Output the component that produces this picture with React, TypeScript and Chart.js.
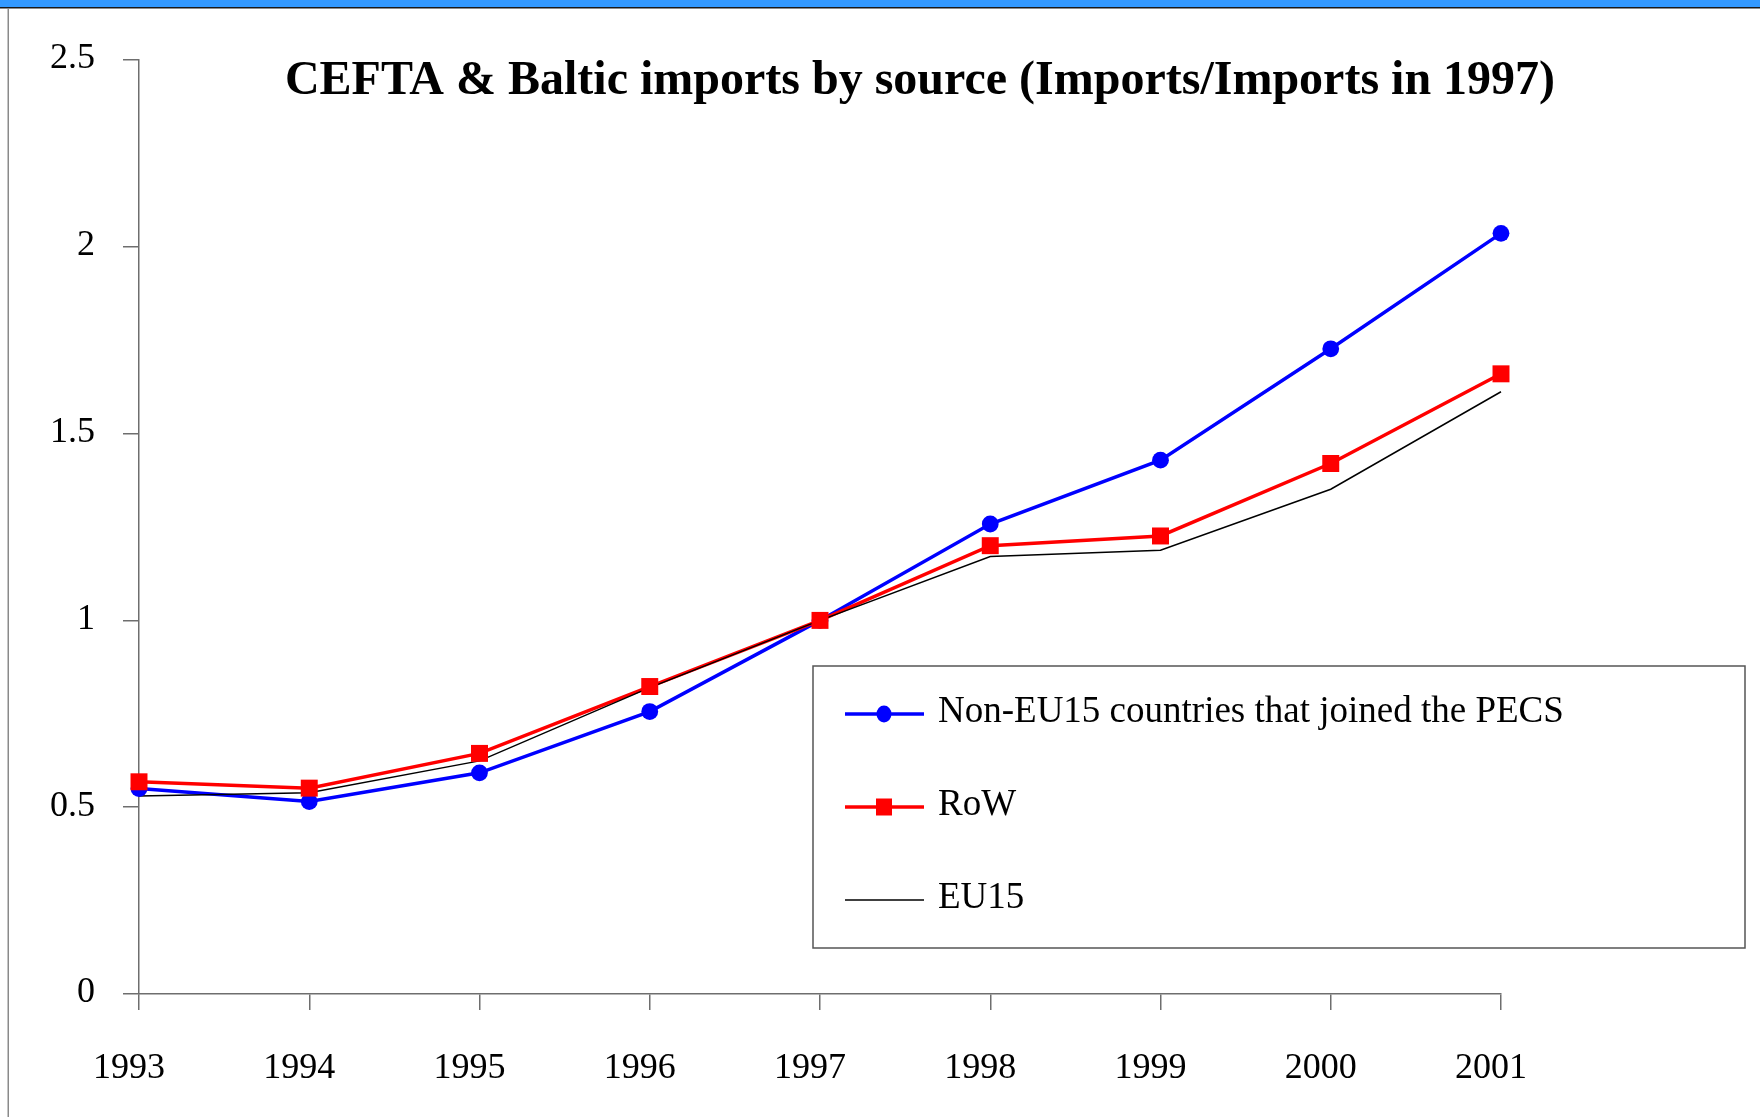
import React, { useEffect, useRef } from 'react';
import { Chart, registerables } from 'chart.js';

Chart.register(...registerables);

// ---- data ----
const years = ['1993', '1994', '1995', '1996', '1997', '1998', '1999', '2000', '2001'];
const nonEU15Pecs = [0.55, 0.515, 0.592, 0.756, 1.0, 1.258, 1.429, 1.727, 2.036];
const restOfWorld = [0.568, 0.551, 0.644, 0.823, 1.0, 1.2, 1.226, 1.42, 1.66];
const eu15 = [0.53, 0.539, 0.624, 0.82, 1.0, 1.171, 1.188, 1.351, 1.612];
const yTickValues = [0, 0.5, 1, 1.5, 2, 2.5];
const seriesNames = ['Non-EU15 countries that joined the PECS', 'RoW', 'EU15'];
const titleText = 'CEFTA & Baltic imports by source (Imports/Imports in 1997)';

const SERIF = "'Liberation Serif', 'Times New Roman', serif";
const AXIS_GRAY = '#6e6e6e';
const BLUE = '#0000ff';
const RED = '#ff0000';
const BLACK = '#000000';

const W = 1760;
const H = 1117;

const decorPlugin = {
  id: 'decor',
  beforeDraw(chart: any) {
    const ctx = chart.ctx;
    ctx.save();
    ctx.fillStyle = '#3399ff';
    ctx.fillRect(0, 0, W, 7);
    ctx.fillStyle = '#1a1a1a';
    ctx.fillRect(0, 7, W, 1.5);
    ctx.fillStyle = '#8a8a8a';
    ctx.fillRect(7.5, 8, 1.5, H - 8);
    ctx.restore();
  },
  afterDraw(chart: any) {
    const ctx = chart.ctx;
    ctx.save();
    // title
    ctx.font = `bold 48px ${SERIF}`;
    ctx.fillStyle = '#000';
    ctx.textAlign = 'center';
    ctx.textBaseline = 'alphabetic';
    ctx.fillText(titleText, 920, 94);

    // legend box
    ctx.strokeStyle = '#555';
    ctx.lineWidth = 1.5;
    ctx.strokeRect(813, 666, 932, 282);

    const styles = [
      { color: BLUE, width: 3.5, marker: 'circle' },
      { color: RED, width: 3.5, marker: 'rect' },
      { color: BLACK, width: 1.5, marker: 'none' },
    ];
    seriesNames.forEach((name, i) => {
      const ly = 714 + i * 93;
      const st = styles[i];
      ctx.strokeStyle = st.color;
      ctx.lineWidth = st.width;
      ctx.beginPath();
      ctx.moveTo(845, ly);
      ctx.lineTo(924, ly);
      ctx.stroke();
      ctx.fillStyle = st.color;
      if (st.marker === 'circle') {
        ctx.beginPath();
        ctx.ellipse(884, ly, 7.5, 8.5, 0, 0, Math.PI * 2);
        ctx.fill();
      } else if (st.marker === 'rect') {
        ctx.fillRect(876, ly - 8.5, 16, 17);
      }
      ctx.fillStyle = '#000';
      ctx.font = `37px ${SERIF}`;
      ctx.textAlign = 'left';
      ctx.textBaseline = 'alphabetic';
      ctx.fillText(name, 938, ly + 8);
    });
    ctx.restore();
  },
};

export default function App() {
  const canvasRef = useRef<HTMLCanvasElement | null>(null);

  useEffect(() => {
    if (!canvasRef.current) return;
    const chart = new Chart(canvasRef.current, {
      type: 'line',
      data: {
        labels: years,
        datasets: [
          {
            label: seriesNames[0],
            data: nonEU15Pecs,
            borderColor: BLUE,
            backgroundColor: BLUE,
            borderWidth: 3.5,
            pointRadius: 0,
            tension: 0,
            clip: false,
            order: 6,
          },
          {
            label: seriesNames[1],
            data: restOfWorld,
            borderColor: RED,
            backgroundColor: RED,
            borderWidth: 3.5,
            pointRadius: 0,
            tension: 0,
            clip: false,
            order: 5,
          },
          {
            label: seriesNames[2],
            data: eu15,
            borderColor: BLACK,
            backgroundColor: BLACK,
            borderWidth: 1.5,
            pointRadius: 0,
            tension: 0,
            clip: false,
            order: 4,
          },
          {
            label: seriesNames[0] + ' markers',
            data: nonEU15Pecs,
            showLine: false,
            pointStyle: 'circle',
            pointRadius: 8.4,
            pointBorderWidth: 0,
            pointBackgroundColor: BLUE,
            pointBorderColor: BLUE,
            clip: false,
            order: 3,
          },
          {
            label: seriesNames[1] + ' markers',
            data: restOfWorld,
            showLine: false,
            pointStyle: 'rect',
            pointRadius: 12,
            pointBorderWidth: 0,
            pointBackgroundColor: RED,
            pointBorderColor: RED,
            clip: false,
            order: 2,
          },
        ],
      },
      options: {
        animation: false,
        responsive: false,
        devicePixelRatio: 1,
        events: [],
        layout: { padding: { left: 0, right: 259, top: 60, bottom: 0 } },
        plugins: {
          legend: { display: false },
          title: { display: false },
          tooltip: { enabled: false },
        },
        scales: {
          x: {
            type: 'category',
            offset: false,
            grid: {
              display: true,
              drawOnChartArea: false,
              drawTicks: true,
              tickLength: 16,
              color: AXIS_GRAY,
              lineWidth: 1.5,
            },
            border: { display: true, color: AXIS_GRAY, width: 1.5 },
            ticks: {
              color: '#000',
              font: { family: SERIF, size: 36 },
              padding: 37,
              labelOffset: -10,
              maxRotation: 0,
              autoSkip: false,
            },
            afterFit: (s: any) => {
              s.height = 123;
            },
          },
          y: {
            type: 'linear',
            min: 0,
            max: 2.5,
            grid: {
              display: true,
              drawOnChartArea: false,
              drawTicks: true,
              tickLength: 16,
              color: AXIS_GRAY,
              lineWidth: 1.5,
            },
            border: { display: true, color: AXIS_GRAY, width: 1.5 },
            ticks: {
              color: '#000',
              font: { family: SERIF, size: 36 },
              padding: 28,
              labelOffset: -1,
              stepSize: 0.5,
              callback: (v: any) => String(v),
            },
            afterBuildTicks: (s: any) => {
              s.ticks = yTickValues.map((v) => ({ value: v }));
            },
            afterFit: (s: any) => {
              s.width = 139;
            },
          },
        },
      },
      plugins: [decorPlugin],
    } as any);
    return () => chart.destroy();
  }, []);

  return (
    <div style={{ position: 'fixed', left: 0, top: 0, width: W, height: H, background: '#fff' }}>
      <canvas ref={canvasRef} width={W} height={H} style={{ display: 'block', width: W, height: H }} />
    </div>
  );
}
